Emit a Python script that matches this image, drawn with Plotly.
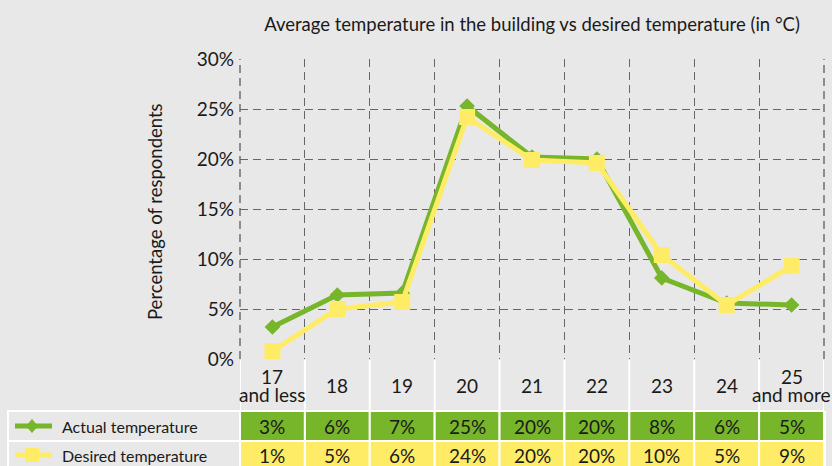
import plotly.graph_objects as go

categories = ["17 and less", "18", "19", "20", "21", "22", "23", "24", "25 and more"]
category_lines = [["17", "and less"], ["18"], ["19"], ["20"], ["21"], ["22"], ["23"], ["24"], ["25", "and more"]]
actual = [3.2, 6.4, 6.6, 25.3, 20.2, 20.0, 8.1, 5.6, 5.4]
desired = [0.8, 5.0, 5.7, 24.2, 19.9, 19.6, 10.4, 5.4, 9.3]
y_ticks = [0, 5, 10, 15, 20, 25, 30]
series = [
    ("Actual temperature", actual, "#77b52a", "diamond"),
    ("Desired temperature", desired, "#ffec66", "square"),
]

BG = "#e8e8e8"
TEXT = "#1a1a1a"
FONT = "Lato"
GRID = "#666666"

# plot area in pixels: x 240..824, y 59..359
L, R, T, B = 240, 824, 59, 359


def px(x):
    return (x - L) / (R - L)


def py(y):
    return (B - y) / (B - T)


fig = go.Figure()
for name, values, color, symbol in series:
    fig.add_trace(go.Scatter(
        x=categories, y=values, name=name, mode="lines+markers",
        line=dict(color=color, width=5),
        marker=dict(symbol=symbol, size=12 if symbol == "diamond" else 16, color=color),
        cliponaxis=False, showlegend=False,
    ))

shapes = []
annotations = []

# left / right plot border (dashed like the grid)
for x in (0, 1):
    shapes.append(dict(type="line", xref="paper", yref="paper", x0=x, x1=x, y0=0, y1=1,
                       line=dict(color=GRID, width=1.4, dash="8px,5px"), layer="below"))

# table background
shapes.append(dict(type="rect", xref="paper", yref="paper", x0=px(8), x1=px(826),
                   y0=py(471), y1=py(411), fillcolor="white", line_width=0, layer="below"))

# category row separators
for i in range(len(categories) + 1):
    shapes.append(dict(type="line", xref="x", yref="paper", x0=i - 0.5, x1=i - 0.5,
                       y0=py(411), y1=py(360), line=dict(color="white", width=2)))

rows = [(411, 441), (441, 471)]
for (name, values, color, symbol), (top, bottom) in zip(series, rows):
    mid = min((top + bottom) / 2, 455)
    # label cell
    shapes.append(dict(type="rect", xref="paper", yref="paper", x0=px(8), x1=px(240),
                       y0=py(bottom), y1=py(top), fillcolor=BG,
                       line=dict(color="white", width=2)))
    # legend symbol
    shapes.append(dict(type="line", xref="paper", yref="paper", x0=px(15), x1=px(52),
                       y0=py(mid), y1=py(mid), line=dict(color=color, width=5)))
    if symbol == "diamond":
        shapes.append(dict(type="path", xref="paper", yref="paper", xsizemode="pixel",
                           ysizemode="pixel", xanchor=px(32), yanchor=py(mid),
                           path="M0,7 L6,0 L0,-7 L-6,0 Z", fillcolor=color, line_width=0))
    else:
        shapes.append(dict(type="rect", xref="paper", yref="paper", xsizemode="pixel",
                           ysizemode="pixel", xanchor=px(32), yanchor=py(mid),
                           x0=-7, x1=7, y0=-7, y1=7, fillcolor=color, line_width=0))
    annotations.append(dict(xref="paper", yref="paper", x=px(61), y=py(mid),
                            xanchor="left", yanchor="middle", text=name, showarrow=False,
                            borderpad=0, font=dict(size=16, color=TEXT, family=FONT)))
    for i, v in enumerate(values):
        shapes.append(dict(type="rect", xref="x", yref="paper", x0=i - 0.5, x1=i + 0.5,
                           y0=py(bottom), y1=py(top), fillcolor=color,
                           line=dict(color="white", width=2)))
        annotations.append(dict(xref="x", yref="paper", x=i, y=py(mid), text=f"{round(v)}%",
                                showarrow=False, yanchor="middle", borderpad=0,
                                font=dict(size=19, color=TEXT, family=FONT)))

# category labels
for i, lines in enumerate(category_lines):
    n = len(lines)
    for k, line in enumerate(lines):
        y = 385 + (k - (n - 1) / 2) * 18
        annotations.append(dict(xref="x", yref="paper", x=i, y=py(y), text=line,
                                showarrow=False, yanchor="middle", borderpad=0,
                                font=dict(size=19, color=TEXT, family=FONT)))

annotations.append(dict(xref="paper", yref="paper", x=px(155), y=py(212), textangle=-90,
                        xanchor="center", yanchor="middle",
                        text="Percentage of respondents", showarrow=False,
                        font=dict(size=18.5, color=TEXT, family=FONT)))

grid = dict(showgrid=True, gridcolor=GRID, gridwidth=1.4, griddash="8px,5px",
            zeroline=False, showline=False, ticks="")

fig.update_layout(
    width=832, height=466,
    margin=dict(l=L, r=832 - R, t=T, b=466 - B),
    paper_bgcolor=BG, plot_bgcolor=BG,
    font=dict(family=FONT, color=TEXT, size=19),
    title=dict(text="Average temperature in the building vs desired temperature (in °C)",
               x=0.5, xref="paper", y=1 - 25 / 466, yanchor="middle",
               font=dict(size=18.5, color=TEXT, family=FONT)),
    xaxis=dict(type="category", tickson="boundaries", showticklabels=False,
               range=[-0.5, len(categories) - 0.5], **grid),
    yaxis=dict(range=[0, 30], tickvals=y_ticks, ticktext=[f"{v}%" for v in y_ticks],
               ticklabelstandoff=5, **grid),
    shapes=shapes,
    annotations=annotations,
)

fig.write_html("out.html", config={"displayModeBar": False},
               post_script="document.body.style.margin='0';")
